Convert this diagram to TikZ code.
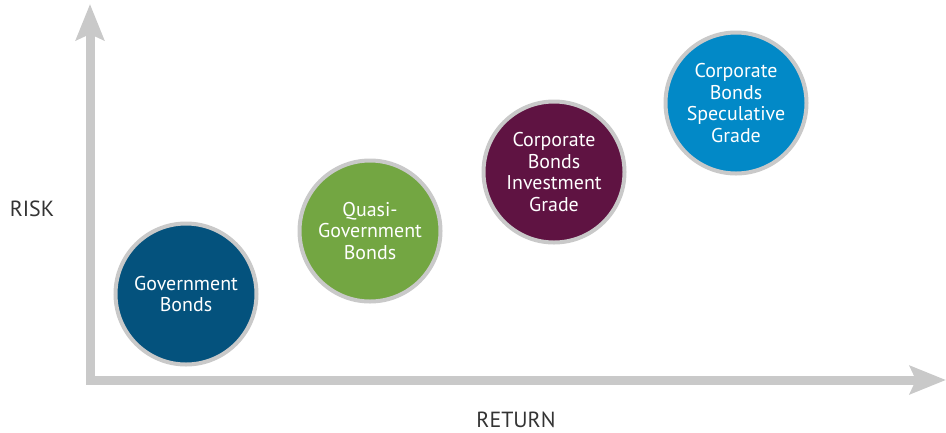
\documentclass[tikz,border=0pt]{standalone}
\usepackage{fontspec}
\setmainfont{PT Sans}
\usetikzlibrary{arrows.meta, positioning}
\definecolor{axisgray}{HTML}{C9C9C9}
\definecolor{govblue}{HTML}{04527D}
\definecolor{quasigreen}{HTML}{73A642}
\definecolor{invpurple}{HTML}{5F1342}
\definecolor{specblue}{HTML}{0289C7}
\definecolor{labelgray}{HTML}{333333}

\begin{document}
\begin{tikzpicture}[x=1bp, y=-1bp, >={Stealth[length=36bp, width=28bp, inset=6bp]}]
\tikzstyle{axis}=[draw=axisgray, line width=9bp, line join=miter]
\tikzstyle{bond}=[draw=axisgray, line width=4bp, circle, minimum size=141bp, inner sep=0pt,
  text=white, align=center, font=\fontsize{20}{21.5}\selectfont]
\tikzstyle{axis label}=[text=labelgray, font=\fontsize{22}{24}\selectfont]

\useasboundingbox (0,0) rectangle (946,432);

% axes
\coordinate (origin) at (90,380);
\coordinate (ytip) at (90,4);
\coordinate (xtip) at (946,380);
\draw[axis, <->] (ytip) -- (origin) -- (xtip);

\node[axis label] (risk) at (32,209) {RISK};
\node[axis label] (return) at (516,420) {RETURN};

% bond classes, from low to high risk
\node[bond, fill=govblue] (government) at (186,294) {Government\\Bonds};
\node[bond, fill=quasigreen] (quasi) at (370,231) {Quasi-\\Government\\Bonds};
\node[bond, fill=invpurple] (investment) at (554,172) {Corporate\\Bonds\\Investment\\Grade};
\node[bond, fill=specblue] (speculative) at (736,103) {Corporate\\Bonds\\Speculative\\Grade};
\end{tikzpicture}
\end{document}
